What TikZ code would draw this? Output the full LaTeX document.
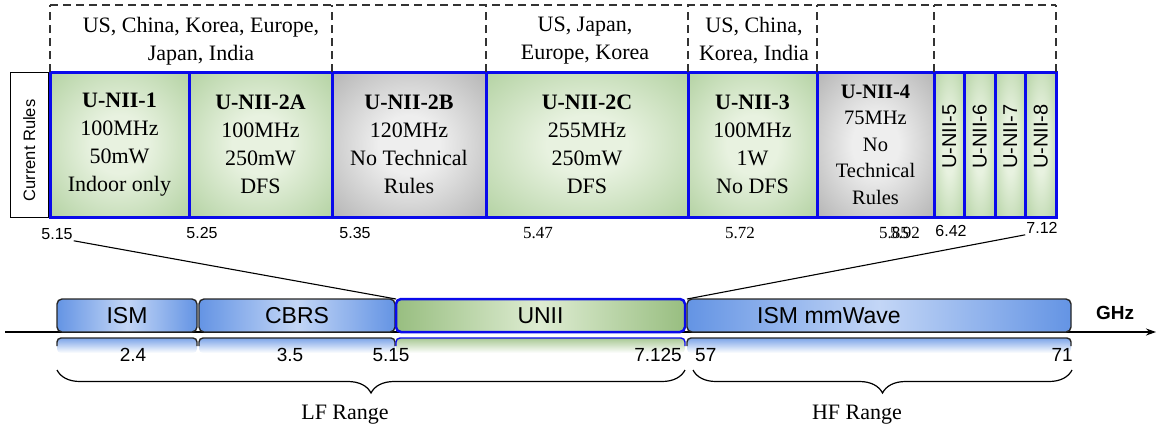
\documentclass[tikz,border=0pt]{standalone}
\usepackage{fontspec}
\setmainfont{Liberation Serif}
\setsansfont{Liberation Sans}
\usepackage{xcolor}
\usetikzlibrary{arrows.meta, positioning, calc, decorations.pathreplacing}

\definecolor{cellin}{RGB}{232,242,224}
\definecolor{cellout}{RGB}{150,192,128}
\definecolor{grayin}{RGB}{238,238,238}
\definecolor{grayout}{RGB}{148,148,148}
\definecolor{bandblue}{RGB}{100,148,228}
\definecolor{bandlight}{RGB}{195,214,246}
\definecolor{bandgreen}{RGB}{152,190,128}
\definecolor{bandgreenlt}{RGB}{222,236,210}
\definecolor{rulesblue}{RGB}{10,10,235}

\pgfdeclareradialshading{greenglow}{\pgfpoint{0bp}{0bp}}{%
  color(0bp)=(cellin); color(10bp)=(cellin); color(50bp)=(cellout); color(100bp)=(cellout)}
\pgfdeclareradialshading{grayglow}{\pgfpoint{0bp}{0bp}}{%
  color(0bp)=(grayin); color(10bp)=(grayin); color(50bp)=(grayout); color(100bp)=(grayout)}

\begin{document}
\begin{tikzpicture}[
    x=1pt, y=-1pt,
    %% U-NII channel cells
    cellg/.style  = {draw=rulesblue, line width=3pt, shading=greenglow,
      minimum height=145pt, inner sep=0pt, outer sep=0pt, align=center,
      font=\fontsize{22}{28}\selectfont},
    cellgr/.style = {cellg, shading=grayglow},
    cellv/.style  = {cellg, minimum width=30.5pt},
    vlbl/.style   = {rotate=90, font=\sffamily\fontsize{20}{20}\selectfont, inner sep=0pt},
    rulesbox/.style = {draw=black, line width=1pt, fill=white, outer sep=0pt,
      minimum width=38.5pt, minimum height=145pt, inner sep=0pt},
    %% Country groups above the cells
    regline/.style = {dash pattern=on 8pt off 5pt, line width=1.4pt, black!80},
    ctry/.style   = {align=center, font=\fontsize{22}{28}\selectfont, inner sep=0pt},
    %% Frequency labels
    ticksf/.style = {font=\sffamily\fontsize{16}{16}\selectfont, inner sep=1pt},
    ticksr/.style = {font=\fontsize{17}{17}\selectfont, inner sep=1pt},
    valsf/.style  = {font=\sffamily\fontsize{19}{19}\selectfont, inner sep=1pt},
    %% Spectrum bands on the axis
    bandbox/.style = {draw=black!85, line width=1.4pt, rounded corners=5pt,
      minimum height=33pt, inner sep=0pt, outer sep=0pt,
      left color=bandblue, right color=bandblue, middle color=bandlight,
      font=\sffamily\fontsize{23}{23}\selectfont},
    zoomln/.style = {line width=1.1pt, black},
    axisln/.style = {-{Stealth[length=10pt, width=7pt]}, line width=1.2pt, black},
    brc/.style    = {decorate, decoration={brace, mirror, amplitude=23pt}, line width=1.2pt},
    rng/.style    = {font=\fontsize{22}{22}\selectfont},
  ]
  \useasboundingbox (0,0) rectangle (1158,432);

  %% -- U-NII cells -------------------------------------------------------
  \node[cellg, minimum width=139pt, anchor=north west] (u1) at (50,72)
    {\textbf{U-NII-1}\\100MHz\\50mW\\Indoor only};
  \node[cellg, minimum width=143pt, right=0pt of u1] (u2a) {\textbf{U-NII-2A}\\100MHz\\250mW\\DFS};
  \node[cellgr, minimum width=154pt, right=0pt of u2a] (u2b) {\textbf{U-NII-2B}\\120MHz\\No Technical\\Rules};
  \node[cellg, minimum width=202pt, right=0pt of u2b] (u2c) {\textbf{U-NII-2C}\\255MHz\\250mW\\DFS};
  \node[cellg, minimum width=129pt, right=0pt of u2c] (u3) {\textbf{U-NII-3}\\100MHz\\1W\\No DFS};
  \node[cellgr, minimum width=117pt, right=0pt of u3, font=\fontsize{20.5}{26.5}\selectfont] (u4)
    {\textbf{U-NII-4}\\75MHz\\No\\Technical\\Rules};
  \foreach \n [remember=\n as \p (initially 4)] in {5,6,7,8} {
    \node[cellv, right=0pt of u\p] (u\n) {};
    \node[vlbl] (l\n) at ($(u\n.center)+(0,-8)$) {U-NII-\n};
  }

  \node[rulesbox, left=1.5pt of u1] (rules) {};
  \node[vlbl, font=\sffamily\fontsize{16.5}{16.5}\selectfont] (rl) at ($(rules.center)+(0,6)$) {Current Rules};

  %% -- country groups (dashed) -------------------------------------------
  \draw[regline] ($(u1.north west)+(0,-67)$) -- ($(u8.north east)+(0,-67)$);
  \foreach \c in {u1.north west, u2b.north west, u2c.north west, u3.north west,
                  u4.north west, u5.north west, u8.north east}
    \draw[regline] (\c) -- ++(0,-67);
  \node[ctry] (c1) at (201,41) {US, China, Korea, Europe,\\Japan, India};
  \node[ctry] (c2) at (585,41) {US, Japan,\\Europe, Korea};
  \node[ctry] (c3) at (754,41) {US, China,\\Korea, India};

  %% -- channel edges (GHz) -----------------------------------------------
  \node[ticksf] (t515) at (57,234)  {5.15};
  \node[ticksf] (t525) at (202,233) {5.25};
  \node[ticksf] (t535) at (355,233) {5.35};
  \node[ticksr] (t547) at (538,233) {5.47};
  \node[ticksr] (t572) at (740,233) {5.72};
  \node[ticksr] (t585) at (894,233) {5.85};
  \node[ticksr] (t592) at (905,233) {5.92};
  \node[ticksf] (t642) at (951,231) {6.42};
  \node[ticksf] (t712) at (1042,228) {7.12};

  %% -- frequency axis ----------------------------------------------------
  \coordinate (axL) at (5,332);
  \coordinate (axR) at (1156,332);
  \draw[axisln] (axL) -- (axR);
  \node[font=\sffamily\bfseries\fontsize{19}{19}\selectfont] (ghz) at (1115,313) {GHz};

  \node[bandbox, minimum width=140pt, anchor=south west] (ism) at (57,332) {ISM};
  \node[bandbox, minimum width=196pt, right=2pt of ism] (cbrs) {CBRS};
  \node[bandbox, minimum width=289pt, right=1pt of cbrs, draw=rulesblue, line width=2.5pt,
        left color=bandgreen, right color=bandgreen, middle color=bandgreenlt] (unii) {UNII};
  \node[bandbox, minimum width=384pt, right=2pt of unii] (mmw) {};
  \node[font=\sffamily\fontsize{23}{23}\selectfont, inner sep=0pt] (mmwl) at ($(mmw.center)+(-50,0)$) {ISM mmWave};

  %% reflections under the bands
  \foreach \b/\c/\e in {ism/bandblue/black!85, cbrs/bandblue/black!85,
                        unii/bandgreen/rulesblue, mmw/bandblue/black!85} {
    \shade[top color=\c!85, bottom color=white, rounded corners=4pt]
      ($(\b.south west)+(0,6)$) rectangle ($(\b.south east)+(0,21)$);
    \draw[line width=1.4pt, \e, rounded corners=4pt]
      ($(\b.south west)+(0,14)$) |- ($(\b.south east)+(0,6)$) -- ++(0,8);
  }

  \node[valsf] (v24)  at (133,355) {2.4};
  \node[valsf] (v35)  at (290,355) {3.5};
  \node[valsf] (v515) at (391,355) {5.15};
  \node[valsf, anchor=east] (v7125) at (683,355) {7.125};
  \node[valsf, anchor=west] (v57) at (694,355) {57};
  \node[valsf, anchor=east] (v71) at (1074,355) {71};

  %% zoom lines from the cells down to the UNII band
  \draw[zoomln] (t515.south east) -- (unii.north west);
  \draw[zoomln] (mmw.north west) -- (t712.south west);

  %% -- LF / HF ranges ----------------------------------------------------
  \coordinate (lfL) at (57,370);
  \coordinate (lfR) at (685,370);
  \coordinate (hfL) at (693,370);
  \coordinate (hfR) at (1072,370);
  \draw[brc] (lfL) -- (lfR);
  \draw[brc] (hfL) -- (hfR);
  \node[rng] (lf) at (345,415) {LF Range};
  \node[rng] (hf) at (857,415) {HF Range};

\end{tikzpicture}
\end{document}
